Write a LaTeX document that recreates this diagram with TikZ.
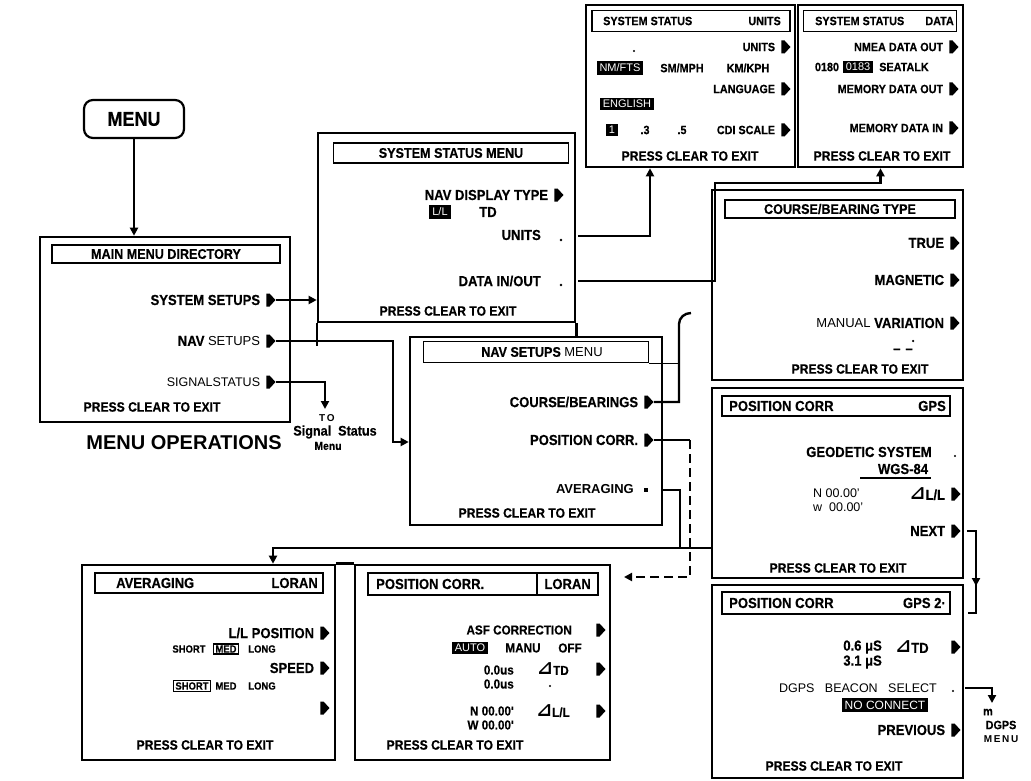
\documentclass[tikz,border=0pt]{standalone}
\usepackage{fontspec}
\setmainfont{Liberation Sans}
\newfontfamily\dv{DejaVu Sans}
\newfontfamily\cnd[FakeStretch=0.9, FakeBold=0.4, UprightFont={* Bold}]{Liberation Sans}
\usetikzlibrary{arrows.meta,shapes.symbols}
\newcommand\rowitem[5]{%
  \node[tip] (#1) at (#2,#3) {};
  \node[#4, anchor=east] (#1t) at ([xshift=-6pt]#1.west) {#5};}
\newcommand\rtri{{\dv\bfseries\fontsize{19}{19}\selectfont ⊿}}
\begin{document}
\begin{tikzpicture}[x=1pt,y=-1pt,
  it/.style={font=\fontsize{14.5}{16}\cnd, inner sep=0pt},
  its/.style={font=\fontsize{13}{14}\cnd, inner sep=0pt},
  sm/.style={font=\fontsize{12}{13}\cnd, inner sep=0pt},
  rg/.style={font=\fontsize{12.5}{14}\selectfont, inner sep=0pt},
  rgb/.style={font=\fontsize{13}{14}\selectfont\bfseries, inner sep=0pt},
  tiny/.style={font=\fontsize{10.5}{11}\cnd, inner sep=0pt},
  pce/.style={font=\fontsize{13.5}{14}\cnd, inner sep=0pt},
  ttl/.style={draw, line width=1.2pt, inner sep=0pt, font=\fontsize{14}{15}\cnd},
  scr/.style={draw, line width=2.6pt, inner sep=0pt},
  border/.style={line width=2.6pt},
  inv/.style={fill=black, text=white, inner xsep=3pt, inner ysep=2.5pt, font=\fontsize{11}{12}\selectfont},
  outl/.style={draw, line width=1.4pt, inner xsep=2pt, inner ysep=1.5pt, font=\fontsize{10.5}{11}\cnd},
  tip/.style={signal, signal to=east, fill=black, minimum width=9pt, minimum height=13pt, inner sep=0pt, signal pointer angle=95},
  dotn/.style={circle, fill=black, inner sep=0pt, minimum size=2.8pt},
  wire/.style={line width=2.4pt},
  arr/.style={line width=2.4pt, -{Triangle[length=8pt,width=8pt]}},
]
\useasboundingbox (0,0) rectangle (1031,781);

% ---------- MENU ----------
\node[draw, line width=2.2pt, rounded corners=9pt, minimum width=100pt, minimum height=38pt, inner sep=0pt, font=\fontsize{20}{22}\cnd] (menu) at (134,119) {MENU};

% ---------- MAIN MENU DIRECTORY ----------
\node[scr, minimum width=250pt, minimum height=185pt] (mm) at (165,329.5) {};
\node[ttl, minimum width=228pt, minimum height=18pt] (mmt) at (166,254) {MAIN MENU DIRECTORY};
\rowitem{ss}{268}{300}{it}{SYSTEM SETUPS}
\rowitem{ns}{268}{341}{it}{NAV {\fontsize{13}{14}\rmfamily\mdseries SETUPS}}
\rowitem{sg}{268}{382}{rg}{SIGNALSTATUS}
\node[pce] (mmp) at (152,407) {PRESS CLEAR TO EXIT};
\draw[arr] (menu.south) -- (mm.north -| menu.south);

\node[font=\fontsize{20}{22}\selectfont\bfseries, inner sep=0pt] (mo) at (184,443) {MENU OPERATIONS};
\node[font=\fontsize{10}{11}\selectfont\bfseries, inner sep=0pt] (to) at (327,418) {T\,O};
\node[font=\fontsize{14}{15}\cnd, inner sep=0pt] (sst) at (335,432) {Signal\ \ Status};
\node[font=\fontsize{11.5}{12}\cnd, inner sep=0pt] (smn) at (328,446) {Menu};
\coordinate (sgend) at (325,409);
\draw[arr] (sg.east) -| (sgend);

% ---------- SYSTEM STATUS MENU ----------
\node[scr, minimum width=257pt, minimum height=189pt] (ssm) at (446.5,227.5) {};
\node[ttl, minimum width=235pt, minimum height=20pt] (ssmt) at (451,153) {SYSTEM STATUS MENU};
\rowitem{nd}{556}{195}{it}{NAV DISPLAY TYPE}
\node[inv] (ll) at (440,212) {L/L};
\node[it] (td) at (488,212) {TD};
\node[it, anchor=east] (unt) at (541,235) {UNITS};
\node[dotn] (und) at (561,240) {};
\node[it, anchor=east] (dit) at (541,281) {DATA IN/OUT};
\node[dotn] (dio) at (561,285) {};
\node[pce] (ssp) at (448,311) {PRESS CLEAR TO EXIT};
\draw[wire] (ssm.south west) -- ++(0,23);
\draw[wire] (ssm.south east) -- ++(0,15);
\draw[arr] (ss.east) -- (ss.east -| ssm.west);

% ---------- SYSTEM STATUS UNITS ----------
\node[scr, minimum width=209pt, minimum height=162pt] (ub) at (690.5,86) {};
\node[ttl, minimum width=198pt, minimum height=21pt] (ubt) at (691,21) {};
\node[sm, anchor=west] (ubt1) at (603,21) {SYSTEM STATUS};
\node[sm, anchor=east] (ubt2) at (781,21) {UNITS};
\node[dotn, minimum size=2.2pt] (ubd) at (634,51) {};
\rowitem{uu}{783}{47}{sm}{UNITS}
\node[inv] (nmf) at (620,68) {NM/FTS};
\node[sm] (smm) at (682,68) {SM/MPH};
\node[sm] (kmk) at (748,68) {KM/KPH};
\rowitem{lg}{783}{89}{sm}{LANGUAGE}
\node[inv] (eng) at (627,104) {ENGLISH};
\node[inv] (one) at (612,130) {1};
\node[sm] (p3) at (645,130) {.3};
\node[sm] (p5) at (682,130) {.5};
\rowitem{cdi}{783}{130}{sm}{CDI SCALE}
\node[pce] (ubp) at (690,156) {PRESS CLEAR TO EXIT};

% ---------- SYSTEM STATUS DATA ----------
\node[scr, minimum width=165pt, minimum height=162pt] (db) at (880.5,86) {};
\node[ttl, minimum width=153pt, minimum height=21pt] (dbt) at (880,21) {};
\node[sm, anchor=west] (dbt1) at (815,21) {SYSTEM STATUS};
\node[sm, anchor=east] (dbt2) at (954,21) {DATA};
\rowitem{nm}{951}{47}{sm}{NMEA DATA OUT}
\node[sm] (d180) at (827,67) {0180};
\node[inv] (d183) at (858,67) {0183};
\node[sm] (stk) at (904,67) {SEATALK};
\rowitem{mdo}{951}{89}{sm}{MEMORY DATA OUT}
\rowitem{mdi}{951}{128}{sm}{MEMORY DATA IN}
\node[pce] (dbp) at (882,156) {PRESS CLEAR TO EXIT};

% ---------- COURSE/BEARING TYPE ----------
\node[scr, minimum width=251pt, minimum height=190pt] (cb) at (837.5,285) {};
\node[ttl, minimum width=230pt, minimum height=18pt] (cbt) at (840,209) {COURSE/BEARING TYPE};
\rowitem{tru}{952}{243}{it}{TRUE}
\rowitem{mag}{952}{280}{it}{MAGNETIC}
\rowitem{var}{952}{323}{it}{{\fontsize{13}{14}\rmfamily\mdseries MANUAL}\ VARIATION}
\node[dotn, minimum size=2.5pt] (vdot) at (913,341) {};
\node[it] (vdash) at (903,351) {–\,\,–};
\node[pce] (cbp) at (860,369) {PRESS CLEAR TO EXIT};

% ---------- POSITION CORR GPS ----------
\node[scr, minimum width=251pt, minimum height=190pt] (gb) at (837.5,483) {};
\node[ttl, minimum width=228pt, minimum height=20pt] (gbt) at (836,406) {};
\node[it, anchor=west] (gbt1) at (729,406) {POSITION CORR};
\node[it, anchor=east] (gbt2) at (946,406) {GPS};
\node[it] (geo) at (869,452) {GEODETIC SYSTEM};
\node[dotn, minimum size=2.2pt] (geod) at (955,456) {};
\node[it] (wgs) at (903,469) {WGS-84};
\draw[line width=1.4pt] (860,478) -- (931,478);
\node[rg, anchor=west] (gn) at (813,493) {N 00.00'};
\node[rg, anchor=west] (gw) at (813,507) {w\ \ 00.00'};
\rowitem{gll}{953}{494}{it}{\rtri L/L}
\rowitem{nxt}{953}{531}{it}{NEXT}
\node[pce] (gbp) at (838,568) {PRESS CLEAR TO EXIT};

% ---------- POSITION CORR GPS 2 ----------
\node[scr, minimum width=251pt, minimum height=193pt] (g2) at (837.5,681.5) {};
\node[ttl, minimum width=228pt, minimum height=22pt] (g2t) at (836,603) {};
\node[it, anchor=west] (g2t1) at (729,603) {POSITION CORR};
\node[it, anchor=east] (g2t2) at (946,603) {GPS 2·};
\node[it, anchor=east] (g06) at (882,647) {0.6 μS};
\node[it] (gtd) at (912,647) {\rtri TD};
\node[tip] (gtdm) at (953,647) {};
\node[it, anchor=east] (g31) at (882,662) {3.1 μS};
\node[rg, anchor=east] (dbs) at (937,688) {DGPS\ \ \ BEACON\ \ \ SELECT};
\node[dotn, minimum size=2.2pt] (dbsd) at (953,691) {};
\node[inv, font=\fontsize{12}{13}\selectfont] (nc) at (885,705) {NO CONNECT};
\rowitem{prv}{953}{730}{it}{PREVIOUS}
\node[pce] (g2p) at (834,766) {PRESS CLEAR TO EXIT};
\node[sm] (dm) at (988,712) {m};
\node[sm] (dgps) at (1001,725) {DGPS};
\node[font=\fontsize{10}{11}\selectfont\bfseries, inner sep=0pt] (dmn) at (1001,739) {M\,E\,N\,U};

% ---------- NAV SETUPS MENU ----------
\node[scr, minimum width=252pt, minimum height=188pt] (nav) at (536,431) {};
\node[ttl, minimum width=225pt, minimum height=21pt] (navt) at (536,352) {\hspace*{12pt}NAV SETUPS {\fontsize{13}{14}\rmfamily\mdseries MENU}};
\rowitem{cbm}{646}{402}{it}{COURSE/BEARINGS}
\rowitem{pcm}{646}{440}{it}{POSITION CORR.}
\node[rgb, anchor=east] (avt) at (634,489) {AVERAGING};
\node[fill=black, inner sep=0pt, minimum size=4pt] (avd) at (646,490) {};
\node[pce] (navp) at (527,513) {PRESS CLEAR TO EXIT};

% ---------- AVERAGING LORAN ----------
\node[scr, minimum width=253pt, minimum height=195pt] (al) at (208.5,662.5) {};
\node[ttl, minimum width=228pt, minimum height=20pt] (alt) at (209,583) {};
\node[it, anchor=west] (alt1) at (116,583) {AVERAGING};
\node[it, anchor=east] (alt2) at (318,583) {LORAN};
\rowitem{llp}{322}{633}{it}{L/L POSITION}
\node[tiny] (s1) at (189,649) {SHORT};
\node[outl] (m1) at (226,649) {MED};
\node[tiny] (l1) at (262,649) {LONG};
\rowitem{spd}{322}{668}{it}{SPEED}
\node[outl] (s2) at (192,686) {SHORT};
\node[tiny] (m2) at (226,686) {MED};
\node[tiny] (l2) at (262,686) {LONG};
\node[tip] (alb) at (322,708) {};
\node[pce] (alp) at (205,745) {PRESS CLEAR TO EXIT};

% ---------- POSITION CORR LORAN ----------
\node[scr, minimum width=255pt, minimum height=195pt] (pl) at (482.5,662.5) {};
\node[ttl, minimum width=230pt, minimum height=22pt] (plt) at (483,584) {};
\node[it, anchor=west] (plt1) at (376,584) {POSITION CORR.};
\node[it, anchor=east] (plt2) at (591,584) {LORAN};
\draw[line width=1.2pt] (537,573) -- (537,595);
\node[its, anchor=east] (asft) at (572,630) {ASF CORRECTION};
\node[tip] (asf) at (598,630) {};
\node[inv] (auto) at (470,648) {AUTO};
\node[its] (manu) at (523,648) {MANU};
\node[its] (off) at (570,648) {OFF};
\node[its, anchor=east] (u1) at (514,670) {0.0us};
\node[its] (ptd) at (553,669) {\rtri TD};
\node[tip] (ptdm) at (598,669) {};
\node[its, anchor=east] (u2) at (514,684) {0.0us};
\node[dotn, minimum size=2.2pt] (pdot) at (550,686) {};
\node[its, anchor=east] (pn) at (514,711) {N 00.00'};
\node[its] (pll) at (553,711) {\rtri L/L};
\node[tip] (pllm) at (598,711) {};
\node[its, anchor=east] (pw) at (514,725) {W 00.00'};
\node[pce] (plp) at (455,745) {PRESS CLEAR TO EXIT};
\draw[border] (al.north east) -- (pl.north west);

% ---------- connectors ----------
\coordinate (nvb) at (393,442);
\draw[arr] (ns.east) -| (nvb) -- (nvb -| nav.west);

\coordinate (uc) at (650,236);
\draw[arr] ([xshift=17pt,yshift=4pt]und.center) -- (uc) -- (uc |- ub.south);
\coordinate (dc1) at (715,281);
\coordinate (dc2) at (715,183);
\draw[arr] ([xshift=17pt,yshift=4pt]dio.center) -- (dc1) -- (dc2) -| (db.south);

\coordinate (cr) at (679,402);
\coordinate (crtop) at (679,324);
\coordinate (crhook) at (691,313);
\draw[wire] (cbm.east) -- (cr) -- (crtop) to[out=90,in=180] (crhook);
\draw[line width=1.2pt] (navt.south east) -- (navt.south east -| cr);

\coordinate (pc1) at (690,440);
\coordinate (pc2) at (690,577);
\coordinate (pcend) at (624,577);
\draw[wire] (pcm.east) -- (pc1);
\draw[arr, dash pattern=on 9pt off 5pt] (pc1) -- (pc2) -- (pcend);

\coordinate (av1) at (680,490);
\coordinate (av2) at (680,548);
\coordinate (avl) at (273,548);
\draw[wire] ([xshift=17pt]avd.center) -- (av1) -- (av2);
\draw[arr] (av2 -| gb.west) -- (avl) -- (avl |- al.north);

\coordinate (nb1) at (976,531);
\coordinate (nb2) at (976,613);
\coordinate (nb3) at (968,613);
\coordinate (nbm) at (976,586);
\draw[wire] ([xshift=6pt]nxt.east) -- (nb1) -- (nb2) -- (nb3);
\draw[arr] (nb1) -- (nbm);

\coordinate (dg) at (992,703);
\draw[arr] ([xshift=12pt,yshift=3pt]dbsd.center) -| (dg);
\end{tikzpicture}
\end{document}
